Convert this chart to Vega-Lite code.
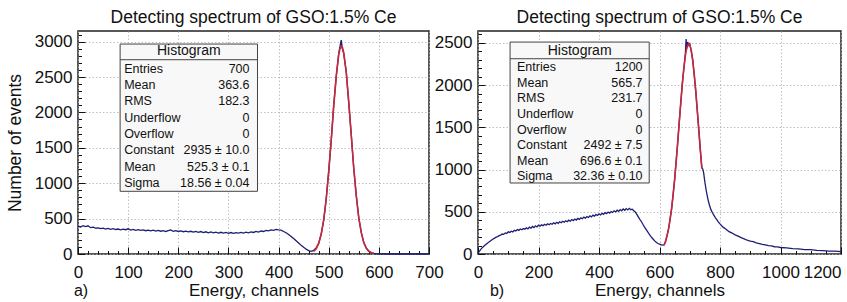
{
  "$schema": "https://vega.github.io/schema/vega-lite/v6.json",
  "background": "white",
  "padding": {"left": 5, "top": 7, "right": 0, "bottom": 0},
  "bounds": "flush",
  "spacing": 49,
  "config": {
    "font": "Liberation Sans",
    "view": {"stroke": "#222", "strokeWidth": 1.5},
    "axis": {
      "labelFont": "Liberation Sans", "labelFontSize": 17, "labelColor": "#111",
      "titleFont": "Liberation Sans", "titleFontWeight": "normal", "titleColor": "#111",
      "tickColor": "#111", "tickWidth": 1,
      "gridColor": "#b0b0b0", "gridDash": [1.5, 2], "gridWidth": 0.8,
      "domain": false, "labelOverlap": false, "labelFlush": false, "format": "d"
    },
    "title": {"font": "Liberation Sans", "fontSize": 17.5, "fontWeight": "normal", "color": "#111", "offset": 5},
    "text": {"font": "Liberation Sans", "color": "#111"}
  },
  "datasets": {
    "a_hist": [
      {"ch":0,"n":395},{"ch":5,"n":382},{"ch":10,"n":401},{"ch":15,"n":388},{"ch":20,"n":398},{"ch":25,"n":372},{"ch":30,"n":379},{"ch":35,"n":366},{"ch":40,"n":370},{"ch":45,"n":358},
      {"ch":50,"n":365},{"ch":55,"n":352},{"ch":60,"n":361},{"ch":65,"n":349},{"ch":70,"n":357},{"ch":75,"n":346},{"ch":80,"n":353},{"ch":85,"n":341},{"ch":90,"n":350},{"ch":95,"n":343},
      {"ch":100,"n":356},{"ch":105,"n":338},{"ch":110,"n":347},{"ch":115,"n":335},{"ch":120,"n":344},{"ch":125,"n":333},{"ch":130,"n":340},{"ch":135,"n":329},{"ch":140,"n":338},{"ch":145,"n":326},
      {"ch":150,"n":336},{"ch":155,"n":324},{"ch":160,"n":333},{"ch":165,"n":322},{"ch":170,"n":331},{"ch":175,"n":318},{"ch":180,"n":329},{"ch":185,"n":340},{"ch":190,"n":321},{"ch":195,"n":330},
      {"ch":200,"n":318},{"ch":205,"n":327},{"ch":210,"n":315},{"ch":215,"n":324},{"ch":220,"n":312},{"ch":225,"n":321},{"ch":230,"n":309},{"ch":235,"n":318},{"ch":240,"n":306},{"ch":245,"n":317},
      {"ch":250,"n":303},{"ch":255,"n":314},{"ch":260,"n":300},{"ch":265,"n":311},{"ch":270,"n":298},{"ch":275,"n":309},{"ch":280,"n":296},{"ch":285,"n":307},{"ch":290,"n":295},{"ch":295,"n":304},
      {"ch":300,"n":293},{"ch":305,"n":303},{"ch":310,"n":292},{"ch":315,"n":301},{"ch":320,"n":294},{"ch":325,"n":305},{"ch":330,"n":296},{"ch":335,"n":308},{"ch":340,"n":299},{"ch":345,"n":312},
      {"ch":350,"n":304},{"ch":355,"n":318},{"ch":360,"n":310},{"ch":365,"n":325},{"ch":370,"n":318},{"ch":375,"n":333},{"ch":380,"n":327},{"ch":385,"n":340},{"ch":390,"n":335},{"ch":395,"n":347},
      {"ch":400,"n":340},{"ch":405,"n":336},{"ch":410,"n":318},{"ch":415,"n":300},{"ch":420,"n":276},{"ch":425,"n":248},{"ch":430,"n":218},{"ch":435,"n":186},{"ch":440,"n":154},{"ch":445,"n":122},
      {"ch":450,"n":94},{"ch":455,"n":68},{"ch":460,"n":48},{"ch":465,"n":38},{"ch":470,"n":52},{"ch":475,"n":85},{"ch":480,"n":152},{"ch":485,"n":281},{"ch":490,"n":476},{"ch":495,"n":781},
      {"ch":500,"n":1175},{"ch":505,"n":1598},{"ch":510,"n":2105},{"ch":515,"n":2502},{"ch":520,"n":2835},{"ch":523,"n":2950},{"ch":525,"n":3020},{"ch":527,"n":2905},{"ch":530,"n":2830},{"ch":535,"n":2575},
      {"ch":540,"n":2130},{"ch":545,"n":1685},{"ch":550,"n":1200},{"ch":555,"n":828},{"ch":560,"n":505},{"ch":565,"n":305},{"ch":570,"n":158},{"ch":575,"n":84},{"ch":580,"n":40},{"ch":585,"n":18},
      {"ch":590,"n":8},{"ch":595,"n":3},{"ch":600,"n":1},{"ch":610,"n":0},{"ch":650,"n":0},{"ch":700,"n":0}
    ],
    "a_fit": [
      {"ch":470,"n":35},{"ch":475,"n":75},{"ch":480,"n":149},{"ch":485,"n":278},{"ch":490,"n":481},{"ch":495,"n":774},{"ch":500,"n":1159},{"ch":505,"n":1614},{"ch":510,"n":2089},{"ch":515,"n":2516},
      {"ch":520,"n":2818},{"ch":522.5,"n":2902},{"ch":525.3,"n":2935},{"ch":527.5,"n":2914},{"ch":530,"n":2842},{"ch":535,"n":2560},{"ch":540,"n":2145},{"ch":545,"n":1671},{"ch":550,"n":1211},{"ch":555,"n":816},
      {"ch":560,"n":511},{"ch":565,"n":298},{"ch":570,"n":161},{"ch":575,"n":81},{"ch":580,"n":38},{"ch":585,"n":17},{"ch":590,"n":7}
    ],
    "a_stats": [
      {"row":1,"label":"Entries","value":"700"},
      {"row":2,"label":"Mean","value":"363.6"},
      {"row":3,"label":"RMS","value":"182.3"},
      {"row":4,"label":"Underflow","value":"0"},
      {"row":5,"label":"Overflow","value":"0"},
      {"row":6,"label":"Constant","value":"2935 ± 10.0"},
      {"row":7,"label":"Mean","value":"525.3 ± 0.1"},
      {"row":8,"label":"Sigma","value":"18.56 ± 0.04"}
    ],
    "b_hist": [
      {"ch":0,"n":12},{"ch":5,"n":35},{"ch":10,"n":58},{"ch":15,"n":78},{"ch":20,"n":95},{"ch":25,"n":110},{"ch":30,"n":125},{"ch":35,"n":138},{"ch":40,"n":152},{"ch":45,"n":165},
      {"ch":50,"n":178},{"ch":55,"n":188},{"ch":60,"n":200},{"ch":65,"n":206},{"ch":70,"n":218},{"ch":75,"n":224},{"ch":80,"n":236},{"ch":85,"n":232},{"ch":90,"n":250},{"ch":95,"n":244},
      {"ch":100,"n":262},{"ch":105,"n":255},{"ch":110,"n":270},{"ch":115,"n":262},{"ch":120,"n":281},{"ch":125,"n":272},{"ch":130,"n":290},{"ch":135,"n":280},{"ch":140,"n":296},{"ch":145,"n":287},
      {"ch":150,"n":301},{"ch":155,"n":292},{"ch":160,"n":309},{"ch":165,"n":298},{"ch":170,"n":318},{"ch":175,"n":305},{"ch":180,"n":326},{"ch":185,"n":313},{"ch":190,"n":334},{"ch":195,"n":320},
      {"ch":200,"n":342},{"ch":205,"n":329},{"ch":210,"n":345},{"ch":215,"n":336},{"ch":220,"n":352},{"ch":225,"n":340},{"ch":230,"n":358},{"ch":235,"n":346},{"ch":240,"n":362},{"ch":245,"n":352},
      {"ch":250,"n":370},{"ch":255,"n":357},{"ch":260,"n":375},{"ch":265,"n":363},{"ch":270,"n":382},{"ch":275,"n":370},{"ch":280,"n":388},{"ch":285,"n":376},{"ch":290,"n":394},{"ch":295,"n":382},
      {"ch":300,"n":400},{"ch":305,"n":388},{"ch":310,"n":408},{"ch":315,"n":396},{"ch":320,"n":414},{"ch":325,"n":402},{"ch":330,"n":421},{"ch":335,"n":410},{"ch":340,"n":428},{"ch":345,"n":417},
      {"ch":350,"n":436},{"ch":355,"n":425},{"ch":360,"n":444},{"ch":365,"n":432},{"ch":370,"n":452},{"ch":375,"n":440},{"ch":380,"n":460},{"ch":385,"n":448},{"ch":390,"n":468},{"ch":395,"n":456},
      {"ch":400,"n":474},{"ch":405,"n":462},{"ch":410,"n":482},{"ch":415,"n":470},{"ch":420,"n":490},{"ch":425,"n":478},{"ch":430,"n":497},{"ch":435,"n":484},{"ch":440,"n":503},{"ch":445,"n":492},
      {"ch":450,"n":511},{"ch":455,"n":498},{"ch":460,"n":518},{"ch":465,"n":505},{"ch":470,"n":526},{"ch":475,"n":512},{"ch":480,"n":534},{"ch":485,"n":518},{"ch":490,"n":538},{"ch":495,"n":522},
      {"ch":500,"n":540},{"ch":505,"n":524},{"ch":510,"n":530},{"ch":515,"n":512},{"ch":520,"n":498},{"ch":525,"n":470},{"ch":530,"n":440},{"ch":535,"n":410},{"ch":540,"n":385},{"ch":545,"n":352},
      {"ch":550,"n":322},{"ch":555,"n":295},{"ch":560,"n":268},{"ch":565,"n":240},{"ch":570,"n":215},{"ch":575,"n":192},{"ch":580,"n":172},{"ch":585,"n":152},{"ch":590,"n":136},{"ch":595,"n":124},
      {"ch":600,"n":116},{"ch":605,"n":110},{"ch":610,"n":106},{"ch":615,"n":108},{"ch":620,"n":148},{"ch":625,"n":220},{"ch":630,"n":296},{"ch":635,"n":415},{"ch":640,"n":535},{"ch":645,"n":705},
      {"ch":650,"n":878},{"ch":655,"n":1096},{"ch":660,"n":1308},{"ch":665,"n":1552},{"ch":670,"n":1770},{"ch":675,"n":2002},{"ch":680,"n":2178},{"ch":685,"n":2345},{"ch":688,"n":2545},{"ch":690,"n":2430},
      {"ch":693,"n":2510},{"ch":695,"n":2470},{"ch":700,"n":2490},{"ch":705,"n":2400},{"ch":710,"n":2295},{"ch":715,"n":2110},{"ch":720,"n":1928},{"ch":725,"n":1690},{"ch":730,"n":1470},{"ch":735,"n":1228},
      {"ch":740,"n":1020},{"ch":743,"n":1005},{"ch":746,"n":960},{"ch":750,"n":850},{"ch":755,"n":740},{"ch":760,"n":650},{"ch":765,"n":580},{"ch":770,"n":525},{"ch":775,"n":488},{"ch":780,"n":458},
      {"ch":785,"n":428},{"ch":790,"n":404},{"ch":795,"n":378},{"ch":800,"n":356},{"ch":810,"n":318},{"ch":820,"n":292},{"ch":830,"n":264},{"ch":840,"n":248},{"ch":850,"n":226},{"ch":860,"n":212},
      {"ch":870,"n":193},{"ch":880,"n":180},{"ch":890,"n":163},{"ch":900,"n":152},{"ch":910,"n":146},{"ch":920,"n":131},{"ch":930,"n":124},{"ch":940,"n":113},{"ch":950,"n":108},{"ch":960,"n":98},
      {"ch":970,"n":95},{"ch":980,"n":86},{"ch":990,"n":84},{"ch":1000,"n":77},{"ch":1020,"n":73},{"ch":1040,"n":63},{"ch":1060,"n":60},{"ch":1080,"n":52},{"ch":1100,"n":51},{"ch":1120,"n":44},
      {"ch":1140,"n":41},{"ch":1160,"n":35},{"ch":1180,"n":33},{"ch":1200,"n":29}
    ],
    "b_fit": [
      {"ch":615,"n":104},{"ch":620,"n":151},{"ch":625,"n":216},{"ch":630,"n":300},{"ch":635,"n":407},{"ch":640,"n":540},{"ch":645,"n":699},{"ch":650,"n":883},{"ch":655,"n":1091},{"ch":660,"n":1314},
      {"ch":665,"n":1547},{"ch":670,"n":1778},{"ch":675,"n":1994},{"ch":680,"n":2185},{"ch":685,"n":2337},{"ch":690,"n":2441},{"ch":696.6,"n":2492},{"ch":700,"n":2478},{"ch":705,"n":2410},{"ch":710,"n":2287},
      {"ch":715,"n":2120},{"ch":720,"n":1919},{"ch":725,"n":1696},{"ch":730,"n":1463},{"ch":735,"n":1233},{"ch":740,"n":1014}
    ],
    "b_stats": [
      {"row":1,"label":"Entries","value":"1200"},
      {"row":2,"label":"Mean","value":"565.7"},
      {"row":3,"label":"RMS","value":"231.7"},
      {"row":4,"label":"Underflow","value":"0"},
      {"row":5,"label":"Overflow","value":"0"},
      {"row":6,"label":"Constant","value":"2492 ± 7.5"},
      {"row":7,"label":"Mean","value":"696.6 ± 0.1"},
      {"row":8,"label":"Sigma","value":"32.36 ± 0.10"}
    ]
  },
  "hconcat": [
    {
      "width": 351, "height": 223,
      "title": {"text": "Detecting spectrum of GSO:1.5% Ce"},
      "resolve": {"scale": {"y": "independent"}, "axis": {"x": "independent", "y": "independent"}},
      "layer": [
        {
          "data": {"name": "a_hist"},
          "mark": {"type": "line", "color": "#1d1d72", "strokeWidth": 1.3},
          "encoding": {
            "x": {"field": "ch", "type": "quantitative", "scale": {"domain": [0, 700], "nice": false, "zero": false},
                  "axis": {"orient": "bottom", "values": [0,100,200,300,400,500,600,700], "tickSize": -7, "labelPadding": 17, "grid": true, "title": "Energy, channels", "titleFontSize": 17, "titlePadding": 2}},
            "y": {"field": "n", "type": "quantitative", "scale": {"domain": [0, 3150], "nice": false, "zero": false},
                  "axis": {"orient": "left", "values": [0,500,1000,1500,2000,2500,3000], "tickSize": -7, "labelPadding": 13, "grid": true, "title": "Number of events", "titleFontSize": 17.5, "titlePadding": 10}}
          }
        },
        {
          "data": {"name": "a_fit"},
          "mark": {"type": "line", "color": "#c8283c", "strokeWidth": 1.6},
          "encoding": {
            "x": {"field": "ch", "type": "quantitative",
                  "axis": {"orient": "bottom", "values": [20,40,60,80,120,140,160,180,220,240,260,280,320,340,360,380,420,440,460,480,520,540,560,580,620,640,660,680], "tickSize": -3.5, "labels": false, "grid": false, "title": null}},
            "y": {"field": "n", "type": "quantitative", "scale": {"domain": [0, 3150], "nice": false, "zero": false},
                  "axis": {"orient": "left", "values": [100,200,300,400,600,700,800,900,1100,1200,1300,1400,1600,1700,1800,1900,2100,2200,2300,2400,2600,2700,2800,2900,3100], "tickSize": -3.5, "labels": false, "grid": false, "title": null}}
          }
        },
        {
          "data": {"values": [{}]},
          "mark": {"type": "text", "text": "a)", "fontSize": 16, "align": "center", "baseline": "middle"},
          "encoding": {
            "x": {"datum": 6, "type": "quantitative", "axis": null},
            "y": {"datum": -520, "type": "quantitative", "scale": {"domain": [0, 3150], "nice": false, "zero": false}, "axis": null}
          }
        },
        {
          "data": {"values": [{}]},
          "mark": {"type": "rect", "fill": "#f8f8f8", "stroke": "#444", "strokeWidth": 1},
          "encoding": {
            "x": {"datum": 84, "type": "quantitative", "axis": null},
            "x2": {"datum": 358},
            "y": {"datum": -0.51, "type": "quantitative", "scale": {"domain": [-1.309, 12.35], "reverse": true, "nice": false, "zero": false}, "axis": null},
            "y2": {"datum": 8.51}
          }
        },
        {
          "data": {"values": [{}]},
          "mark": {"type": "rule", "color": "#444", "strokeWidth": 1},
          "encoding": {
            "x": {"datum": 84, "type": "quantitative", "axis": null},
            "x2": {"datum": 358},
            "y": {"datum": 0.45, "type": "quantitative", "scale": {"domain": [-1.309, 12.35], "reverse": true, "nice": false, "zero": false}, "axis": null}
          }
        },
        {
          "data": {"values": [{}]},
          "mark": {"type": "text", "text": "Histogram", "fontSize": 14, "align": "center", "baseline": "middle"},
          "encoding": {
            "x": {"datum": 221, "type": "quantitative", "axis": null},
            "y": {"datum": -0.08, "type": "quantitative", "scale": {"domain": [-1.309, 12.35], "reverse": true, "nice": false, "zero": false}, "axis": null}
          }
        },
        {
          "data": {"name": "a_stats"},
          "mark": {"type": "text", "fontSize": 12.5, "align": "left", "baseline": "middle"},
          "encoding": {
            "x": {"datum": 92, "type": "quantitative", "axis": null},
            "y": {"field": "row", "type": "quantitative", "scale": {"domain": [-1.309, 12.35], "reverse": true, "nice": false, "zero": false}, "axis": null},
            "text": {"field": "label"}
          }
        },
        {
          "data": {"name": "a_stats"},
          "mark": {"type": "text", "fontSize": 12.5, "align": "right", "baseline": "middle"},
          "encoding": {
            "x": {"datum": 342, "type": "quantitative", "axis": null},
            "y": {"field": "row", "type": "quantitative", "scale": {"domain": [-1.309, 12.35], "reverse": true, "nice": false, "zero": false}, "axis": null},
            "text": {"field": "value"}
          }
        }
      ]
    },
    {
      "width": 363, "height": 223,
      "title": {"text": "Detecting spectrum of GSO:1.5% Ce"},
      "resolve": {"scale": {"y": "independent"}, "axis": {"x": "independent", "y": "independent"}},
      "layer": [
        {
          "data": {"name": "b_hist"},
          "mark": {"type": "line", "color": "#1d1d72", "strokeWidth": 1.3},
          "encoding": {
            "x": {"field": "ch", "type": "quantitative", "scale": {"domain": [0, 1200], "nice": false, "zero": false},
                  "axis": {"orient": "bottom", "values": [0,200,400,600,800,1000,1200], "tickSize": -7, "labelPadding": 17, "grid": true, "title": "Energy, channels", "titleFontSize": 17, "titlePadding": 2,
                           "labelAlign": {"condition": {"test": "datum.value >= 1200", "value": "right"}, "value": "center"}}},
            "y": {"field": "n", "type": "quantitative", "scale": {"domain": [0, 2640], "nice": false, "zero": false},
                  "axis": {"orient": "left", "values": [0,500,1000,1500,2000,2500], "tickSize": -7, "labelPadding": 13, "grid": true, "title": null}}
          }
        },
        {
          "data": {"name": "b_fit"},
          "mark": {"type": "line", "color": "#c8283c", "strokeWidth": 1.6},
          "encoding": {
            "x": {"field": "ch", "type": "quantitative",
                  "axis": {"orient": "bottom", "values": [50,100,150,250,300,350,450,500,550,650,700,750,850,900,950,1050,1100,1150], "tickSize": -3.5, "labels": false, "grid": false, "title": null}},
            "y": {"field": "n", "type": "quantitative", "scale": {"domain": [0, 2640], "nice": false, "zero": false},
                  "axis": {"orient": "left", "values": [100,200,300,400,600,700,800,900,1100,1200,1300,1400,1600,1700,1800,1900,2100,2200,2300,2400,2600], "tickSize": -3.5, "labels": false, "grid": false, "title": null}}
          }
        },
        {
          "data": {"values": [{}]},
          "mark": {"type": "text", "text": "b)", "fontSize": 16, "align": "center", "baseline": "middle"},
          "encoding": {
            "x": {"datum": 63, "type": "quantitative", "axis": null},
            "y": {"datum": -440, "type": "quantitative", "scale": {"domain": [0, 2640], "nice": false, "zero": false}, "axis": null}
          }
        },
        {
          "data": {"values": [{}]},
          "mark": {"type": "rect", "fill": "#f8f8f8", "stroke": "#444", "strokeWidth": 1},
          "encoding": {
            "x": {"datum": 106, "type": "quantitative", "axis": null},
            "x2": {"datum": 566},
            "y": {"datum": -0.62, "type": "quantitative", "scale": {"domain": [-1.331, 12.99], "reverse": true, "nice": false, "zero": false}, "axis": null},
            "y2": {"datum": 8.43}
          }
        },
        {
          "data": {"values": [{}]},
          "mark": {"type": "rule", "color": "#444", "strokeWidth": 1},
          "encoding": {
            "x": {"datum": 106, "type": "quantitative", "axis": null},
            "x2": {"datum": 566},
            "y": {"datum": 0.45, "type": "quantitative", "scale": {"domain": [-1.331, 12.99], "reverse": true, "nice": false, "zero": false}, "axis": null}
          }
        },
        {
          "data": {"values": [{}]},
          "mark": {"type": "text", "text": "Histogram", "fontSize": 14, "align": "center", "baseline": "middle"},
          "encoding": {
            "x": {"datum": 336, "type": "quantitative", "axis": null},
            "y": {"datum": -0.07, "type": "quantitative", "scale": {"domain": [-1.331, 12.99], "reverse": true, "nice": false, "zero": false}, "axis": null}
          }
        },
        {
          "data": {"name": "b_stats"},
          "mark": {"type": "text", "fontSize": 12.5, "align": "left", "baseline": "middle"},
          "encoding": {
            "x": {"datum": 129, "type": "quantitative", "axis": null},
            "y": {"field": "row", "type": "quantitative", "scale": {"domain": [-1.331, 12.99], "reverse": true, "nice": false, "zero": false}, "axis": null},
            "text": {"field": "label"}
          }
        },
        {
          "data": {"name": "b_stats"},
          "mark": {"type": "text", "fontSize": 12.5, "align": "right", "baseline": "middle"},
          "encoding": {
            "x": {"datum": 544, "type": "quantitative", "axis": null},
            "y": {"field": "row", "type": "quantitative", "scale": {"domain": [-1.331, 12.99], "reverse": true, "nice": false, "zero": false}, "axis": null},
            "text": {"field": "value"}
          }
        }
      ]
    }
  ]
}
